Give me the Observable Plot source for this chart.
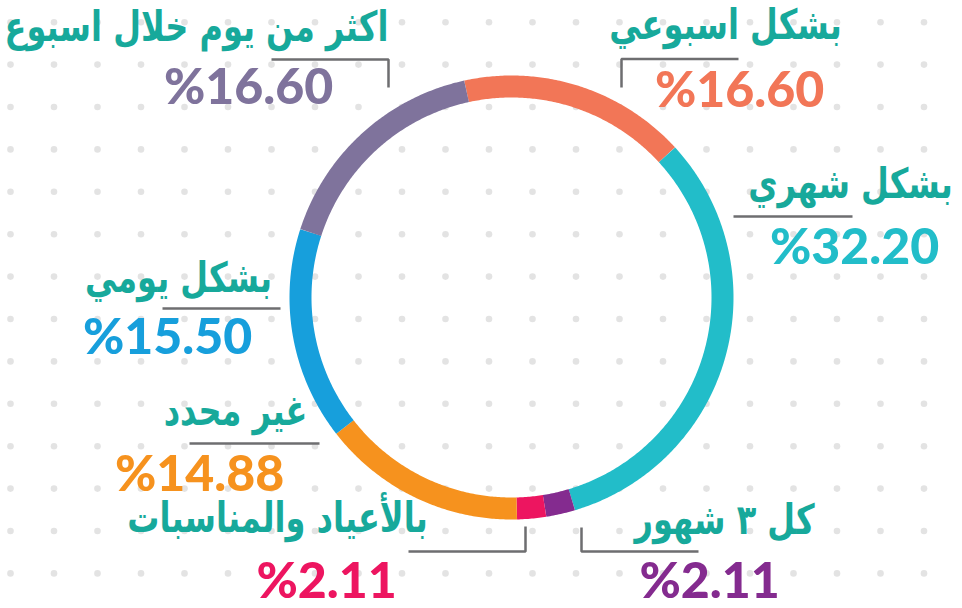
<!DOCTYPE html>
<html><head><meta charset="utf-8">
<script src="https://cdn.jsdelivr.net/npm/d3@7"></script>
<script src="https://cdn.jsdelivr.net/npm/@observablehq/plot@0.6"></script>
<style>html,body{margin:0;padding:0;background:#fff;overflow:hidden}</style>
</head><body><div id="chart"></div>
<script>
// ---- data ----
const categories = ["بشكل اسبوعي", "بشكل شهري", "كل ٣ شهور", "بالأعياد والمناسبات", "غير محدد", "بشكل يومي", "اكثر من يوم خلال اسبوع"];
const shares = [16.60, 32.20, 2.11, 2.11, 14.88, 15.50, 16.60];
const valueLabels = ["%16.60", "%32.20", "%2.11", "%2.11", "%14.88", "%15.50", "%16.60"];
const colors = ["#f27657", "#22bdc9", "#842b8f", "#ed1560", "#f6921e", "#179fdc", "#7f739c"];

// ---- layout (positions / styles) ----
const W = 962, H = 608;
const cx = 511, cy = 297, rMid = 211, ring = 22, startDeg = -12.3;
const labelPos = [ // [labelX, labelBaseline, valueX, valueBaseline]
  [725, 38, 739, 106],
  [850, 197, 854, 263],
  [724, 533, 709, 597],
  [277, 531, 326, 597],
  [235, 424, 199, 490],
  [178, 291, 167, 353],
  [196, 40, 248, 103]
];
const leaders = [
  [[738, 58.5], [621, 58.5], [621, 87]],
  [[733, 216], [852, 216]],
  [[581, 527], [581, 551], [698, 551]],
  [[525, 526], [525, 551], [408, 551]],
  [[189, 443], [319, 443]],
  [[162, 308], [280, 308]],
  [[271, 59], [388, 59], [388, 87]]
];

// background dot grid
const grid = [];
for (let i = 0; i < 22; i++) for (let j = 0; j < 14; j++) grid.push({x: 10 + 43.5 * i, y: 21.7 + 42.4 * j});

// donut arcs from the shares
const total = d3.sum(shares);
const arcPts = [];
let acc = 0;
shares.forEach((v, k) => {
  const a0 = startDeg + acc / total * 360;
  acc += v;
  const a1 = startDeg + acc / total * 360;
  const n = Math.max(2, Math.ceil((a1 - a0) / 0.5));
  for (let s = 0; s <= n; s++) {
    const a = (a0 + (a1 - a0) * s / n) * Math.PI / 180;
    arcPts.push({k, x: cx + rMid * Math.sin(a), y: cy - rMid * Math.cos(a)});
  }
});

const leaderPts = leaders.flatMap((pts, k) => pts.map(([x, y]) => ({k, x, y})));
const labels = categories.map((c, k) => ({k, c, x: labelPos[k][0], y: labelPos[k][1]}));
const values = valueLabels.map((v, k) => ({k, v, x: labelPos[k][2], y: labelPos[k][3]}));

const chart = Plot.plot({
  width: W, height: H,
  margin: 0,
  x: {domain: [0, W], range: [0, W], axis: null},
  y: {domain: [0, H], range: [0, H], axis: null},
  style: {background: "#fff"},
  marks: [
    Plot.dot(grid, {x: "x", y: "y", r: 3.3, fill: "#e3e3e3", stroke: "none"}),
    Plot.line(arcPts, {x: "x", y: "y", z: "k", stroke: d => colors[d.k], strokeWidth: ring, strokeLinecap: "butt", strokeLinejoin: "round"}),
    Plot.line(leaderPts, {x: "x", y: "y", z: "k", stroke: "#6e6e70", strokeWidth: 2.5, strokeLinecap: "butt", strokeLinejoin: "miter"}),
    Plot.text(labels, {x: "x", y: "y", text: "c", fill: "#17a99b", fontSize: 32, fontWeight: "bold", fontFamily: "DejaVu Sans", textAnchor: "middle", lineAnchor: "bottom", className: "arlabel"}),
    Plot.text(values, {x: "x", y: "y", text: "v", fill: d => colors[d.k], fontSize: 50, fontWeight: 900, fontFamily: "Lato", textAnchor: "middle", lineAnchor: "bottom"})
  ]
});
// stretch the Arabic labels vertically (about their baseline) to match the taller lettering
chart.querySelectorAll(".arlabel text").forEach(t => {
  const tr = t.getAttribute("transform") || "";
  t.setAttribute("transform", tr + " scale(1,1.3)");
});
document.getElementById("chart").append(chart);
</script>
</body></html>
